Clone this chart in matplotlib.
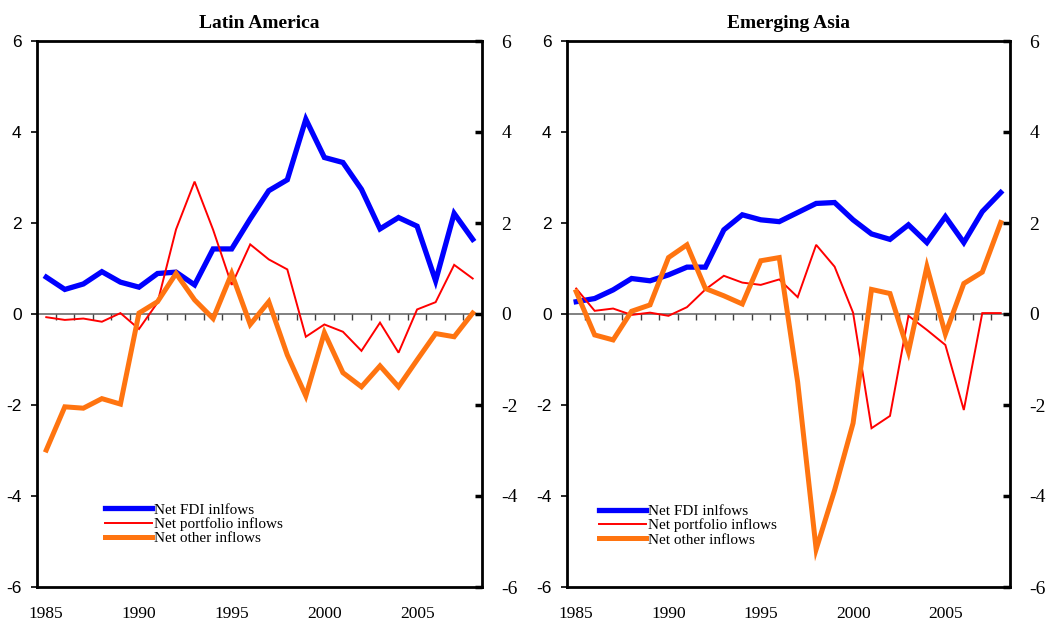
import numpy as np
import matplotlib
matplotlib.use('Agg')
import matplotlib.pyplot as plt

years = list(range(1985, 2009))
label_years = [1985, 1990, 1995, 2000, 2005]
yticks = [-6, -4, -2, 0, 2, 4, 6]

titles = ["Latin America", "Emerging Asia"]
series_labels = ["Net FDI inlfows", "Net portfolio inflows", "Net other inflows"]

la_fdi = [0.81, 0.54, 0.66, 0.93, 0.70, 0.59, 0.89, 0.92, 0.64, 1.43, 1.43, 2.09,
          2.71, 2.95, 4.28, 3.44, 3.33, 2.74, 1.87, 2.12, 1.93, 0.73, 2.21, 1.64]
la_portfolio = [-0.07, -0.13, -0.10, -0.17, 0.02, -0.33, 0.25, 1.86, 2.91, 1.85, 0.64, 1.53,
                1.20, 0.98, -0.50, -0.23, -0.39, -0.81, -0.19, -0.85, 0.10, 0.26, 1.08, 0.78]
la_other = [-2.99, -2.04, -2.07, -1.86, -1.98, 0.02, 0.27, 0.89, 0.31, -0.10, 0.89, -0.23,
            0.27, -0.90, -1.80, -0.41, -1.29, -1.60, -1.14, -1.60, -1.01, -0.43, -0.50, 0.02]

asia_fdi = [0.27, 0.34, 0.53, 0.78, 0.73, 0.86, 1.03, 1.03, 1.85, 2.18, 2.07, 2.03,
            2.23, 2.43, 2.45, 2.07, 1.76, 1.64, 1.96, 1.57, 2.14, 1.57, 2.25, 2.67]
asia_portfolio = [0.56, 0.07, 0.12, -0.02, 0.03, -0.04, 0.15, 0.54, 0.84, 0.69, 0.64, 0.76,
                  0.37, 1.52, 1.04, 0.03, -2.51, -2.24, -0.04, -0.35, -0.68, -2.11, 0.02, 0.02]
asia_other = [0.49, -0.46, -0.57, 0.06, 0.20, 1.24, 1.52, 0.56, 0.40, 0.22, 1.17, 1.24,
              -1.50, -5.17, -3.87, -2.40, 0.54, 0.45, -0.83, 1.04, -0.44, 0.67, 0.92, 2.01]

panels = [(la_fdi, la_portfolio, la_other), (asia_fdi, asia_portfolio, asia_other)]
colors = ["#0000ff", "#ff0000", "#ff7410"]
widths = [3.8, 1.4, 3.6]

serif = "Liberation Serif"
sans = "Liberation Sans"

fig = plt.figure(figsize=(10.48, 6.25), dpi=100)
positions = [[0.0353, 0.0608, 0.4246, 0.8736], [0.541, 0.0608, 0.4227, 0.8736]]
legend_anchor = [(0.153, 0.154), (0.072, 0.151)]

yrs = np.array(years)
bounds = (yrs[:-1] + yrs[1:]) / 2.0

for idx, (pos, title, series) in enumerate(zip(positions, titles, panels)):
    ax = fig.add_axes(pos)
    ax.set_xlim(yrs[0] - 0.5, yrs[-1] + 0.5)
    ax.set_ylim(-6, 6)
    # zero line with year-boundary tick marks
    ax.axhline(0, color="#808080", lw=1.4, zorder=1)
    ax.plot(bounds, np.zeros_like(bounds), ls="none", marker=3, ms=4,
            mew=1.0, color="#404040", zorder=1)
    handles = []
    for vals, c, w, lab in zip(series, colors, widths, series_labels):
        h, = ax.plot(years, vals, color=c, lw=w, label=lab, zorder=3,
                     solid_joinstyle="miter")
        handles.append(h)
    for s in ax.spines.values():
        s.set_linewidth(2.0)
        s.set_color("black")
    ax.set_xticks(label_years)
    ax.set_xticklabels([str(y) for y in label_years], fontfamily=serif, fontsize=12.5)
    ax.tick_params(axis="x", length=0, pad=14)
    ax.set_yticks(yticks)
    ax.set_yticklabels([str(v) for v in yticks], fontfamily=sans, fontsize=12.5)
    ax.tick_params(axis="y", direction="out", length=4, width=1.2, pad=7)
    ax.set_title(title, fontfamily=serif, fontweight="bold", fontsize=14, pad=9)

    ax2 = ax.twinx()
    ax2.set_ylim(-6, 6)
    ax2.set_yticks(yticks)
    ax2.set_yticklabels([str(v) for v in yticks], fontfamily=serif, fontsize=14)
    ax2.tick_params(axis="y", direction="in", length=5, width=2.5, pad=14)
    for s in ax2.spines.values():
        s.set_visible(False)

    leg = ax.legend(handles=handles, loc="upper left", bbox_to_anchor=legend_anchor[idx],
                    frameon=False, prop={"family": serif, "size": 11},
                    handlelength=3.1, handletextpad=0.1, labelspacing=0.03,
                    borderpad=0, borderaxespad=0)

fig.savefig("out.png", dpi=100)
